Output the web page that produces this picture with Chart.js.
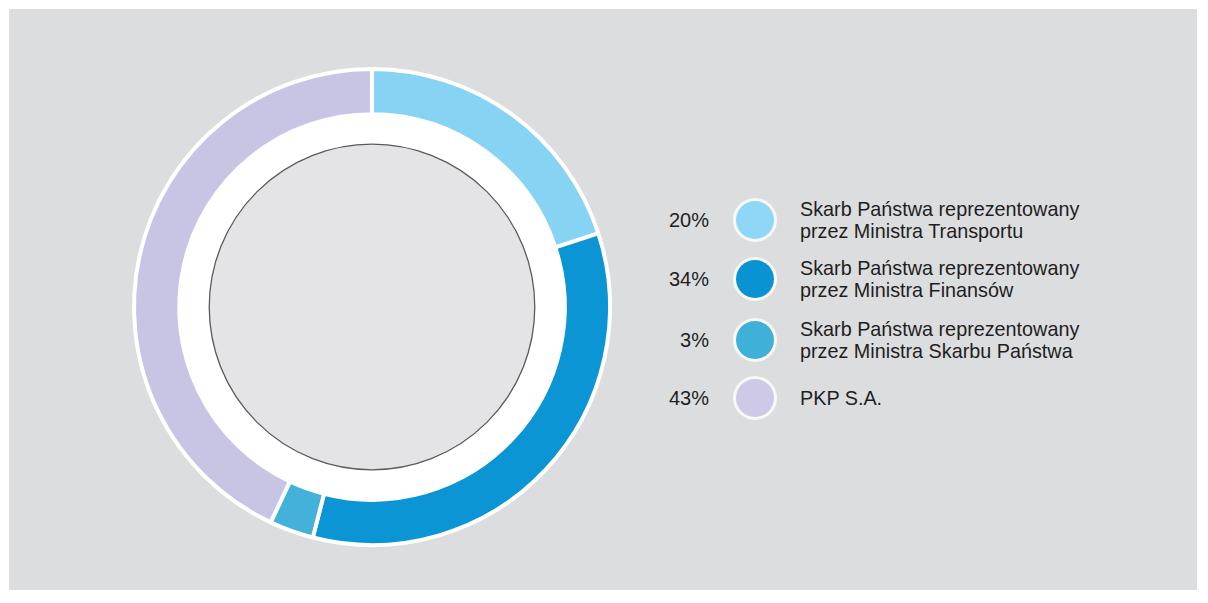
<!DOCTYPE html>
<html>
<head>
<meta charset="utf-8">
<script src="https://cdn.jsdelivr.net/npm/chart.js@4.4.1/dist/chart.umd.min.js"></script>
<style>
  body { margin: 0; background: #fff; width: 1208px; height: 603px; overflow: hidden; font-family: "Liberation Sans", Arial, sans-serif; }
  .panel { position: absolute; left: 9px; top: 9px; width: 1188px; height: 581px; background: #dcdddf; }
  .chart-box { position: absolute; left: 122px; top: 57px; width: 500px; height: 500px; }
  .legend { position: absolute; left: 0; top: 0; }
  .pct { position: absolute; width: 80px; text-align: right; font-size: 20px; line-height: 22px; color: #1e1e1e; }
  .dot { position: absolute; width: 38px; height: 38px; border-radius: 50%; box-shadow: 0 0 0 3px rgba(255,255,255,0.8); }
  .lbl { position: absolute; font-size: 19.8px; line-height: 22px; color: #1e1e1e; white-space: nowrap; }
</style>
</head>
<body>
<div class="panel"></div>
<div class="chart-box"><canvas id="myChart"></canvas></div>
<div class="legend" id="legend"></div>
<script>
const labels = [
  ['Skarb Państwa reprezentowany', 'przez Ministra Transportu'],
  ['Skarb Państwa reprezentowany', 'przez Ministra Finansów'],
  ['Skarb Państwa reprezentowany', 'przez Ministra Skarbu Państwa'],
  ['PKP S.A.']
];
const shares = [20, 34, 3, 43];
const colors = ['#86d3f4', '#0b95d5', '#44b1d8', '#c8c4e4'];
const legendColors = ['#8fd7f6', '#0a93d3', '#3fb0d7', '#cdc9e7'];

// legend on the right, built from the arrays
const legendTops = [220, 279, 340, 398];
const legend = document.getElementById('legend');
labels.forEach((lines, i) => {
  const y = legendTops[i];
  const pct = document.createElement('div');
  pct.className = 'pct';
  pct.style.left = '629px';
  pct.style.top = (y - 11) + 'px';
  pct.textContent = shares[i] + '%';
  legend.appendChild(pct);

  const dot = document.createElement('div');
  dot.className = 'dot';
  dot.style.left = (755 - 19) + 'px';
  dot.style.top = (y - 19) + 'px';
  dot.style.background = legendColors[i];
  legend.appendChild(dot);

  const lbl = document.createElement('div');
  lbl.className = 'lbl';
  lbl.style.left = '800px';
  lbl.style.top = (y - lines.length * 11) + 'px';
  lbl.innerHTML = lines.join('<br>');
  legend.appendChild(lbl);
});

// white ring and grey inner disc inside the doughnut
const innerDisc = {
  id: 'innerDisc',
  beforeDatasetsDraw(chart) {
    const arc = chart.getDatasetMeta(0).data[0];
    if (!arc) return;
    const ctx = chart.ctx;
    const r = arc.innerRadius;
    ctx.save();
    ctx.beginPath();
    ctx.arc(arc.x, arc.y, r + 1, 0, Math.PI * 2);
    ctx.fillStyle = '#ffffff';
    ctx.fill();
    ctx.beginPath();
    ctx.arc(arc.x, arc.y, r - 30, 0, Math.PI * 2);
    ctx.fillStyle = '#e4e4e6';
    ctx.fill();
    ctx.lineWidth = 1.3;
    ctx.strokeStyle = '#5a5a5c';
    ctx.stroke();
    ctx.restore();
  }
};

const ctx = document.getElementById('myChart');
const myChart = new Chart(ctx, {
  type: 'doughnut',
  data: {
    labels: labels.map(l => l.join(' ')),
    datasets: [{
      data: shares,
      backgroundColor: colors,
      borderColor: '#ffffff',
      borderWidth: 4,
      hoverOffset: 0
    }]
  },
  options: {
    responsive: true,
    maintainAspectRatio: false,
    animation: false,
    radius: 238,
    cutout: '81%',
    plugins: {
      legend: { display: false },
      tooltip: { enabled: false }
    }
  },
  plugins: [innerDisc]
});
</script>
</body>
</html>
